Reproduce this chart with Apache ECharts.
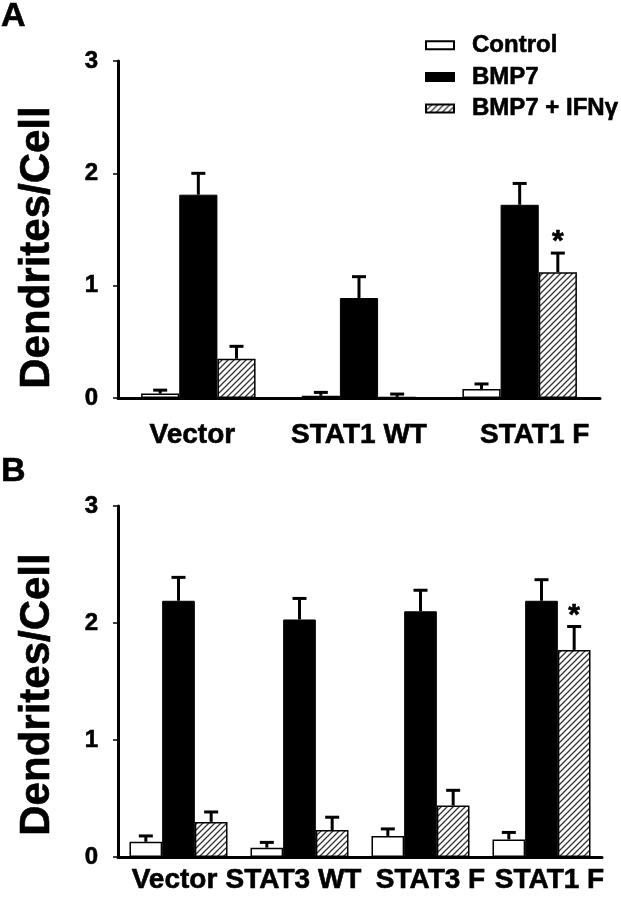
<!DOCTYPE html>
<html>
<head>
<meta charset="utf-8">
<script src="https://cdn.jsdelivr.net/npm/echarts@6/dist/echarts.min.js"></script>
<style>
html,body{margin:0;padding:0;background:#fff;}
#chart{width:621px;height:899px;}
</style>
</head>
<body>
<div id="chart"></div>
<script>
// ---------- data ----------
const seriesNames = ['Control', 'BMP7', 'BMP7 + IFN\u03b3'];
const yTicks = [0, 1, 2, 3];

const catsA = ['Vector', 'STAT1 WT', 'STAT1 F'];
const controlA = [0.04, 0.02, 0.08];
const controlErrA = [0.03, 0.03, 0.045];
const bmp7A = [1.81, 0.89, 1.72];
const bmp7ErrA = [0.19, 0.19, 0.19];
const ifnA = [0.35, 0.01, 1.12];
const ifnErrA = [0.11, 0.025, 0.17];
const starsA = [[2, 2]]; // [seriesIndex, categoryIndex]

const catsB = ['Vector', 'STAT3 WT', 'STAT3 F', 'STAT1 F'];
const controlB = [0.13, 0.08, 0.18, 0.15];
const controlErrB = [0.05, 0.045, 0.06, 0.06];
const bmp7B = [2.19, 2.03, 2.10, 2.19];
const bmp7ErrB = [0.20, 0.18, 0.18, 0.18];
const ifnB = [0.30, 0.23, 0.44, 1.77];
const ifnErrB = [0.085, 0.11, 0.13, 0.20];
const starsB = [[2, 3]];

// ---------- styles ----------
const FONT = 'Arial, "Liberation Sans", sans-serif';
const THICK = { textBorderColor: '#000', textBorderWidth: 0.6 };
function makeHatch() {
  const c = document.createElement('canvas');
  c.width = 6; c.height = 6;
  const g = c.getContext('2d');
  g.fillStyle = '#fff'; g.fillRect(0, 0, 6, 6);
  g.strokeStyle = '#333'; g.lineWidth = 1.3;
  g.beginPath();
  g.moveTo(0, 6); g.lineTo(6, 0);
  g.moveTo(-1, 1); g.lineTo(1, -1);
  g.moveTo(5, 7); g.lineTo(7, 5);
  g.stroke();
  return c;
}
const hatch = { image: makeHatch(), repeat: 'repeat' };
const itemStyles = [
  { color: '#fff', borderColor: '#000', borderWidth: 1.5 },
  { color: '#000', borderColor: '#000', borderWidth: 1 },
  { color: hatch, borderColor: '#000', borderWidth: 1.5 }
];

// small horizontal nudges of category labels, as in the reference layout
const labelShiftA = [-6, 0, 15];
const labelShiftB = [-4, -6, 10, 8];

const panels = [
  { cats: catsA, shift: labelShiftA, vals: [controlA, bmp7A, ifnA], errs: [controlErrA, bmp7ErrA, ifnErrA], stars: starsA, gap: 0.2875 },
  { cats: catsB, shift: labelShiftB, vals: [controlB, bmp7B, ifnB], errs: [controlErrB, bmp7ErrB, ifnErrB], stars: starsB, gap: 0.19 }
];

const series = [];
panels.forEach((p, pi) => {
  p.vals.forEach((vals, si) => {
    series.push({
      type: 'bar', name: seriesNames[si], xAxisIndex: pi, yAxisIndex: pi,
      data: vals, barGap: '0%', barCategoryGap: (p.gap * 100) + '%',
      itemStyle: itemStyles[si], emphasis: { disabled: true }, z: 2
    });
  });
  p.vals.forEach((vals, si) => {
    const data = vals.map((v, ci) => {
      const star = p.stars.some(s => s[0] === si && s[1] === ci) ? 1 : 0;
      return [ci, v, p.errs[si][ci], star];
    });
    series.push({
      type: 'custom', xAxisIndex: pi, yAxisIndex: pi, z: 3, silent: true,
      data: data,
      renderItem: function (params, api) {
        const ci = api.value(0), v = api.value(1), e = api.value(2), star = api.value(3);
        const base = api.coord([ci, v]);
        const top = api.coord([ci, v + e]);
        const band = api.size([1, 0])[0];
        const barW = band * (1 - p.gap) / 3;
        const cx = base[0] + (si - 1) * barW;
        const cap = 7;
        const children = [
          { type: 'line', shape: { x1: cx, y1: base[1], x2: cx, y2: top[1] }, style: { stroke: '#000', lineWidth: 3 } },
          { type: 'line', shape: { x1: cx - cap, y1: top[1], x2: cx + cap, y2: top[1] }, style: { stroke: '#000', lineWidth: 3 } }
        ];
        if (star) {
          children.push({ type: 'text', style: { text: '*', x: cx, y: top[1] + 4, textAlign: 'center', textVerticalAlign: 'bottom', font: 'bold 30px ' + FONT, fill: '#000', stroke: '#000', lineWidth: 0.6 } });
        }
        return { type: 'group', children: children };
      }
    });
  });
});

const grids = [
  { left: 118, right: 21, top: 61, bottom: 501 },
  { left: 118, right: 19, top: 506, bottom: 42 }
];

function padFor(s) {
  return s >= 0 ? [0, 0, 0, 2 * s] : [0, -2 * s, 0, 0];
}

const chart = echarts.init(document.getElementById('chart'), null, { renderer: 'canvas' });
chart.setOption({
  animation: false,
  backgroundColor: '#fff',
  title: [
    { text: 'A', left: 1, top: 0, padding: 0, textStyle: Object.assign({ fontFamily: FONT, fontWeight: 'bold', fontSize: 34, color: '#000' }, THICK) },
    { text: 'B', left: 1, top: 455, padding: 0, textStyle: Object.assign({ fontFamily: FONT, fontWeight: 'bold', fontSize: 34, color: '#000' }, THICK) }
  ],
  legend: {
    data: seriesNames, orient: 'vertical', left: 425, top: 33, padding: 0,
    itemWidth: 28, itemHeight: 8, itemGap: 7, icon: 'rect', selectedMode: false,
    textStyle: Object.assign({ fontFamily: FONT, fontWeight: 'bold', fontSize: 24, color: '#000', padding: [0, 0, 0, 13] }, THICK)
  },
  grid: grids,
  xAxis: panels.map((p, pi) => ({
    type: 'category', gridIndex: pi,
    data: p.cats.map((c, ci) => ({ value: c, textStyle: { padding: padFor(p.shift[ci]) } })),
    axisLine: { lineStyle: { color: '#000', width: 3 } },
    axisTick: { alignWithLabel: true, length: 5, lineStyle: { color: '#000', width: 1.5 } },
    axisLabel: Object.assign({ interval: 0, margin: pi === 0 ? 23 : 9, color: '#000', fontFamily: FONT, fontWeight: 'bold', fontSize: 28 }, THICK)
  })),
  yAxis: panels.map((p, pi) => ({
    type: 'value', gridIndex: pi, min: yTicks[0], max: yTicks[yTicks.length - 1], interval: 1,
    name: 'Dendrites/Cell', nameLocation: 'middle', nameGap: 60,
    nameTextStyle: Object.assign({ fontFamily: FONT, fontWeight: 'bold', fontSize: 42, color: '#000', padding: [0, pi === 0 ? 36 : 26, 0, 0] }, THICK),
    axisLine: { show: true, lineStyle: { color: '#000', width: 3 } },
    axisTick: { show: true, length: 5, lineStyle: { color: '#000', width: 1.5 } },
    splitLine: { show: false },
    axisLabel: Object.assign({ margin: 20, color: '#000', fontFamily: FONT, fontWeight: 'bold', fontSize: 24 }, THICK)
  })),
  series: series
});
</script>
</body>
</html>
